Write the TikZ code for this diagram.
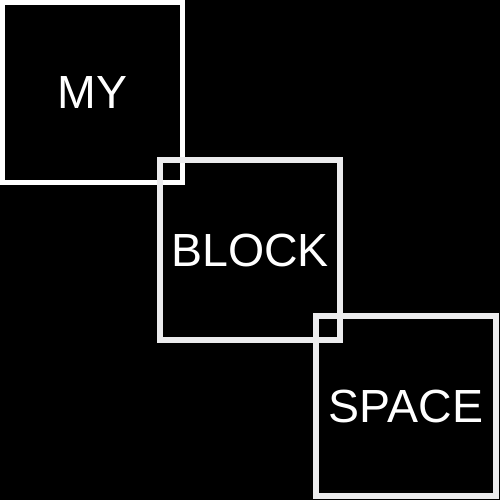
\documentclass[tikz,border=0pt]{standalone}
\usepackage{fontspec}
\setmainfont{Liberation Sans}
\definecolor{lightline}{RGB}{236,236,238}
\begin{document}
\begin{tikzpicture}[x=1pt,y=-1pt,
  blocksq/.style={draw, line width=5.5pt, minimum size=180pt, inner sep=0pt,
    text=white, font=\fontsize{46.5}{52}\selectfont}]
\fill[black] (0,0) rectangle (500,500);
\useasboundingbox (0,0) rectangle (500,500);
\node[blocksq, draw=white, line width=5pt] (my) at (92.5,92.5) {MY};
\node[blocksq, draw=lightline] (block) at (250,250) {BLOCK};
\node[blocksq, draw=lightline] (space) at (406,406) {SPACE};
\end{tikzpicture}
\end{document}
